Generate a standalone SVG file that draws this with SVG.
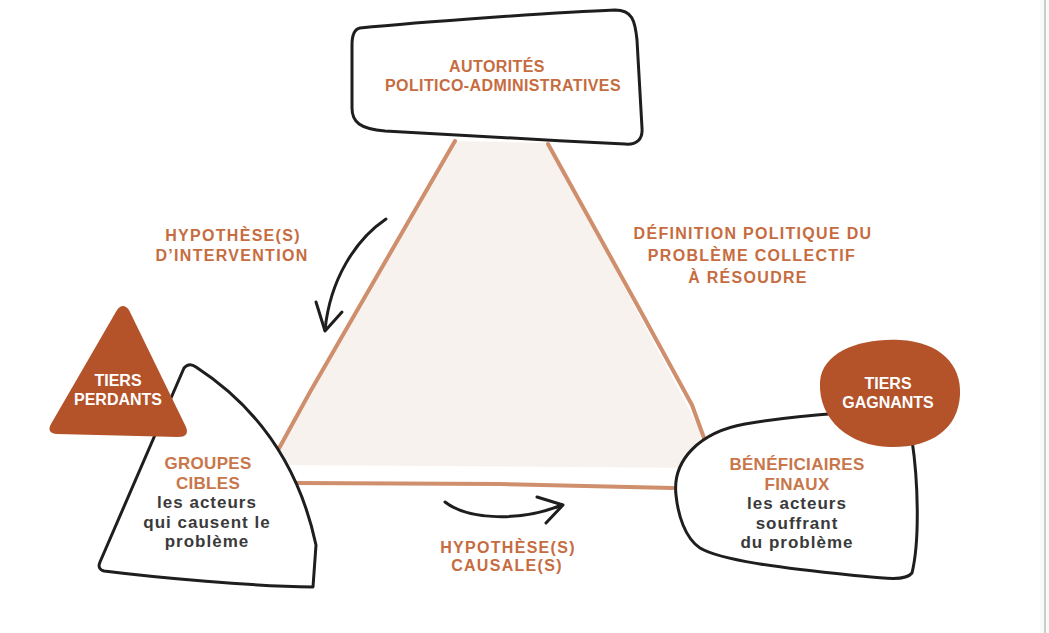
<svg xmlns="http://www.w3.org/2000/svg" width="1049" height="633" viewBox="0 0 1049 633">
<style>
.ink{fill:none;stroke:#1e1e1e;stroke-width:3;stroke-linecap:round;stroke-linejoin:round}
.shape{fill:#ffffff;stroke:#1e1e1e;stroke-width:3;stroke-linejoin:round}
.tri{fill:none;stroke:#cf8e6c;stroke-width:4;stroke-linecap:round;stroke-linejoin:round}
.lbl{font-family:"Liberation Sans",Arial,sans-serif;font-weight:700;font-size:16px;fill:#c66c40;text-anchor:middle;letter-spacing:1.3px}
.ttl{font-family:"Liberation Sans",Arial,sans-serif;font-weight:700;font-size:16px;fill:#c66c40;text-anchor:middle;letter-spacing:0.4px}
.wlbl{font-family:"Liberation Sans",Arial,sans-serif;font-weight:700;font-size:16px;fill:#ffffff;text-anchor:middle}
.olbl{font-family:"Liberation Sans",Arial,sans-serif;font-weight:700;font-size:17px;fill:#c8764a;text-anchor:middle;letter-spacing:0.3px}
.dlbl{font-family:"Liberation Sans",Arial,sans-serif;font-weight:700;font-size:17px;fill:#3a3a3a;text-anchor:middle;letter-spacing:1px}
</style>
<rect x="0" y="0" width="1049" height="633" fill="#ffffff"/>
<rect x="1040" y="0" width="9" height="633" fill="#fafafa"/>
<line x1="1045" y1="0" x2="1045" y2="633" stroke="#cccccc" stroke-width="2"/>

<g id="triangle">
<path d="M 455,141 L 548,143 L 700,430 L 702,468 L 285,465 L 278,452 Z" fill="#f7f2ee"/>
<path class="tri" d="M 455,141 L 340,340 L 310,392 L 277,452"/>
<path class="tri" d="M 548,144 L 640,310 L 692,405 L 704,438"/>
<path class="tri" d="M 293,483 L 500,484 L 673,488"/>
</g>

<g id="connectors">
<path class="ink" d="M 386,219 C 355,240 330,280 325,330"/>
<path class="ink" d="M 316,302 L 325,331 L 342,312"/>
<path class="ink" d="M 445,502 C 468,520 520,522 562,505"/>
<path class="ink" d="M 537,497 L 563,505 L 546,523"/>
</g>

<g id="autorites">
<path class="shape" d="M 360,28 C 420,22 560,12 615,10 C 632,10 635,20 637,40 L 642,128 C 643,140 636,145 625,144 C 540,140 440,134 385,131 C 360,129 352,122 352,108 L 352,45 C 352,33 355,29 360,28 Z"/>
<text class="ttl" x="497" y="72">AUTORITÉS</text>
<text class="ttl" x="503" y="91">POLITICO-ADMINISTRATIVES</text>
</g>

<g id="label-intervention">
<text class="lbl" x="233" y="241">HYPOTHÈSE(S)</text>
<text class="lbl" x="232" y="261">D’INTERVENTION</text>
</g>

<g id="label-definition">
<text class="lbl" x="753" y="239">DÉFINITION POLITIQUE DU</text>
<text class="lbl" x="752" y="261">PROBLÈME COLLECTIF</text>
<text class="lbl" x="748" y="283">À RÉSOUDRE</text>
</g>

<g id="label-causale">
<text class="lbl" x="508" y="553">HYPOTHÈSE(S)</text>
<text class="lbl" x="507" y="571">CAUSALE(S)</text>
</g>

<g id="groupes-cibles">
<path class="shape" d="M 184,368 Q 189,362 196,367 C 262,410 300,470 316,545 L 313,587 C 250,586 160,578 104,571 Q 97,569 100,562 L 184,368 Z"/>
<text class="olbl" x="208" y="469">GROUPES</text>
<text class="olbl" x="208" y="488.5">CIBLES</text>
<text class="dlbl" x="207" y="508">les acteurs</text>
<text class="dlbl" x="207" y="527.5">qui causent le</text>
<text class="dlbl" x="207" y="547">problème</text>
</g>

<g id="tiers-perdants">
<path d="M 117,310 Q 123,302 129,310 L 186,427 Q 190,437 178,437 L 57,434 Q 46,433 51,424 Z" fill="#b4532a"/>
<text class="wlbl" x="118" y="386">TIERS</text>
<text class="wlbl" x="118" y="405">PERDANTS</text>
</g>

<g id="beneficiaires">
<path class="shape" d="M 676,495 C 672,460 700,432 745,424 C 790,416 830,414 855,412 L 912,440 C 918,480 920,540 912,573 C 905,582 880,578 850,575 C 780,568 720,560 700,548 C 685,538 678,515 676,495 Z"/>
<text class="olbl" x="797" y="470">BÉNÉFICIAIRES</text>
<text class="olbl" x="797" y="489.5">FINAUX</text>
<text class="dlbl" x="797" y="509">les acteurs</text>
<text class="dlbl" x="797" y="528.5">souffrant</text>
<text class="dlbl" x="797" y="548">du problème</text>
</g>

<g id="tiers-gagnants">
<path d="M 820,382 C 822,352 860,338 900,340 C 940,342 962,365 960,395 C 958,430 930,448 890,447 C 850,446 818,420 820,382 Z" fill="#b4532a"/>
<text class="wlbl" x="888" y="389">TIERS</text>
<text class="wlbl" x="888" y="408">GAGNANTS</text>
</g>
</svg>
